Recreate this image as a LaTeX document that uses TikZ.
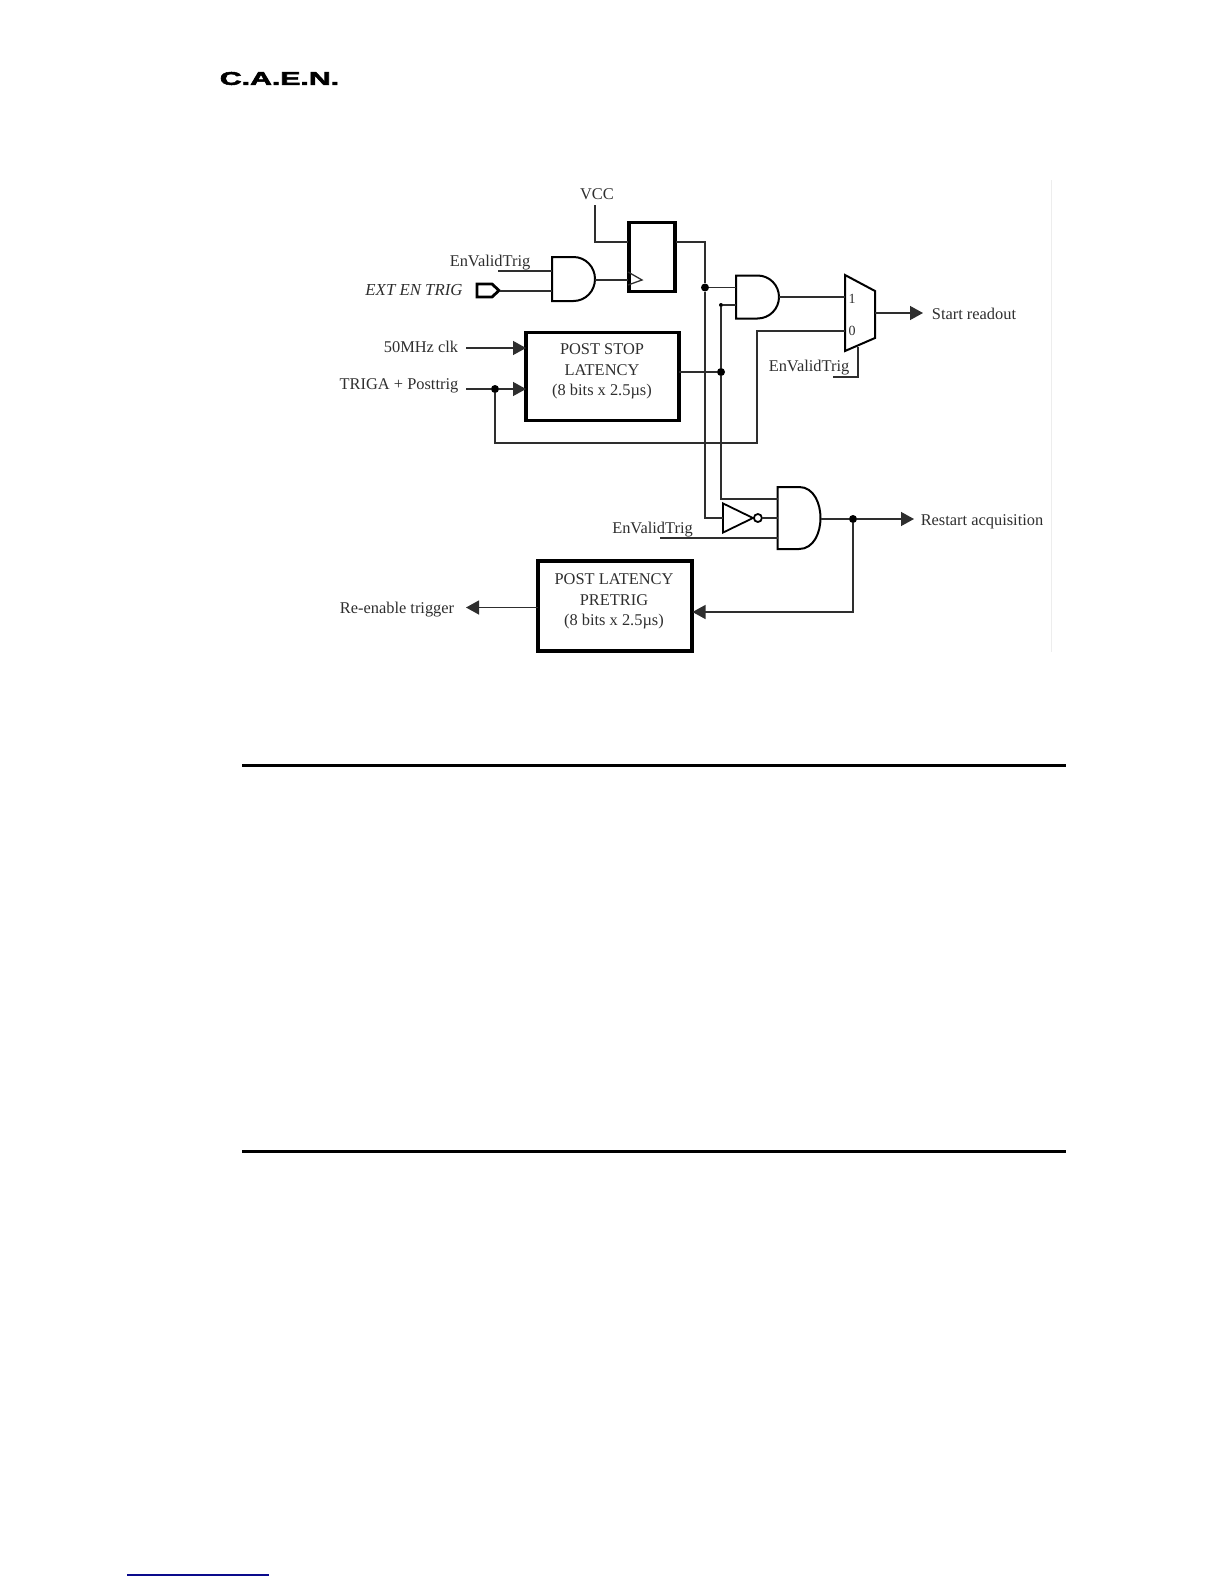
\documentclass[tikz,border=0pt]{standalone}
\usepackage{fontspec}
\setmainfont{Liberation Serif}
\newfontfamily\logofont[FakeBold=2.5]{Liberation Sans Bold}
\usetikzlibrary{arrows.meta,calc,shapes.gates.logic.US}
\definecolor{inkgray}{gray}{0.18}
\definecolor{linkblue}{RGB}{10,10,140}
\tikzset{
  lbl/.style={inner sep=0pt,text=inkgray,font=\fontsize{8.2}{10.4}\selectfont,align=center},
  wire/.style={draw=inkgray,line width=0.65pt},
  sig/.style={wire,-{Triangle[length=6.5pt,width=7pt]}},
  blockbox/.style={draw,line width=1.7pt,inner sep=0pt,outer sep=0pt},
  andg/.style={inner sep=0pt,outer sep=0pt,minimum width=21.5pt},
  dot/.style={circle,fill=black,inner sep=0pt,minimum size=4pt},
  rulebar/.style={line width=1.5pt}
}
\newcommand{\andbody}[1]{
  \draw[line width=1pt] (#1.south west) -- (#1.north west) -- ($(#1.north west)!0.5!(#1.north east)$)
    to[out=0,in=90] (#1.east) to[out=-90,in=0] ($(#1.south west)!0.5!(#1.south east)$) -- cycle;
}
\begin{document}
\begin{tikzpicture}[x=0.5pt,y=-0.5pt]
\useasboundingbox (0,0) rectangle (1224,1584);
\node[inner sep=0pt] (logo) at (279.5,78.5) {\scalebox{1.8}[1.1]{\logofont\fontsize{8.4}{9}\selectfont C.A.E.N.}};
\draw[black!7,line width=0.5pt] (1051,180) -- (1051,652);
\draw[rulebar] (242,765) -- (1066,765);
\draw[rulebar] (242,1151) -- (1066,1151);
\draw[linkblue,line width=1pt] (127,1575) -- (269,1575);

\node[blockbox,minimum width=23pt,minimum height=34.5pt] (ff) at (652,257) {};
\node[blockbox,minimum width=76.5pt,minimum height=44pt] (stopbox) at (602.5,376.5) {};
\node[blockbox,minimum width=77pt,minimum height=45pt] (prebox) at (615,606) {};
\node[lbl] at (602,371.5) {POST STOP\\LATENCY\\(8 bits x 2.5µs)};
\node[lbl] at (614,601.5) {POST LATENCY\\PRETRIG\\(8 bits x 2.5µs)};

\node[andg,minimum height=22pt] (and1) at (573.5,279) {};
\node[andg,minimum height=21.5pt] (and2) at (757.5,297) {};
\node[andg,minimum height=31pt] (and3) at (799,518) {};
\andbody{and1}
\andbody{and2}
\andbody{and3}
\node[not gate US,draw,line width=0.9pt,inner sep=0pt,outer sep=0pt,minimum width=14.5pt,minimum height=12.5pt,anchor=west] (inv) at (723,518) {};

\draw[line width=1pt] (845,275) -- (875,291) -- (875,338) -- (845,351) -- cycle;
\draw[wire] (628,272) -- (642,280) -- (628,285);
\draw[line width=1.4pt] (477,284) -- (492,284) -- (499,290.5) -- (492,297) -- (477,297) -- cycle;

\node[lbl] (vcc) at (597,194) {VCC};
\node[lbl] (en1) at (490,263) {EnValidTrig};
\node[lbl,font=\fontsize{8.4}{10}\itshape] (ext) at (414,290) {EXT EN TRIG};
\node[lbl] (clk) at (421,347) {50MHz clk};
\node[lbl] (trg) at (399,386) {TRIGA + Posttrig};
\node[lbl] (en2) at (809,368) {EnValidTrig};
\node[lbl] (en3) at (652.5,530) {EnValidTrig};
\node[lbl] (rd) at (974,314) {Start readout};
\node[lbl] (rs) at (982,522) {Restart acquisition};
\node[lbl] (re) at (397,610) {Re-enable trigger};
\node[lbl,font=\fontsize{7}{8}\selectfont] at (852,299) {1};
\node[lbl,font=\fontsize{7}{8}\selectfont] at (852,331) {0};

\coordinate (vcctop) at (595,205);
\coordinate (ffd) at (628,242);
\coordinate (ffq) at (676,242);
\coordinate (ffclk) at (628,280);
\coordinate (en1end) at (498,271);
\coordinate (extpin) at (500,291);
\coordinate (clkend) at (466,348);
\coordinate (trgend) at (466,389);
\coordinate (muxone) at (845,297.5);
\coordinate (muxzero) at (845,331);
\coordinate (muxsel) at (858,347);
\coordinate (muxout) at (875,313);
\coordinate (selend) at (833,377);
\coordinate (loopcor) at (757,443);
\coordinate (a3top) at (777.5,499);
\coordinate (a3low) at (777.5,538);
\coordinate (en3end) at (660,538);
\coordinate (rdend) at (923,313);
\coordinate (rsend) at (914,519);
\coordinate (reend) at (466,607.5);
\coordinate (prein) at (692.5,612);
\coordinate (preout) at (537.5,607.5);

\node[dot] (ja) at (705,287.5) {};
\node[dot] (jb) at (721,372) {};
\node[dot,minimum size=2pt] (jc) at (721,305) {};
\node[dot] (jt) at (495,389) {};
\node[dot] (jr) at (853,519) {};

\draw[wire] (vcctop) |- (ffd);
\draw[wire] (en1end) -- (en1end -| and1.west);
\draw[wire] (extpin) -- (extpin -| and1.west);
\draw[wire] (ffclk -| and1.east) -- (ffclk);
\draw[wire] (ffq) -| (ja);
\draw[wire] (ja) |- (inv.input);
\draw[wire] (ja) -- (ja -| and2.west);
\draw[wire] (jc) -- (jc -| and2.west);
\draw[wire] (jc) -- (jb);
\draw[wire] (jb) |- (a3top);
\draw[wire] (stopbox.east |- jb) -- (jb);
\draw[wire] (and2.east) -- (and2.east -| muxone);
\draw[sig] (clkend) -- (clkend -| stopbox.west);
\draw[wire] (trgend) -- (jt);
\draw[sig] (jt) -- (jt -| stopbox.west);
\draw[wire] (jt) |- (loopcor) |- (muxzero);
\draw[wire] (muxsel) |- (selend);
\draw[sig] (muxout) -- (rdend);
\draw[wire] (inv.output) -- (inv.output -| and3.west);
\draw[wire] (en3end) -- (a3low);
\draw[wire] (and3.east |- jr) -- (jr);
\draw[sig] (jr) -- (rsend);
\draw[sig] (jr) |- (prein);
\draw[sig] (preout) -- (reend);
\end{tikzpicture}
\end{document}
